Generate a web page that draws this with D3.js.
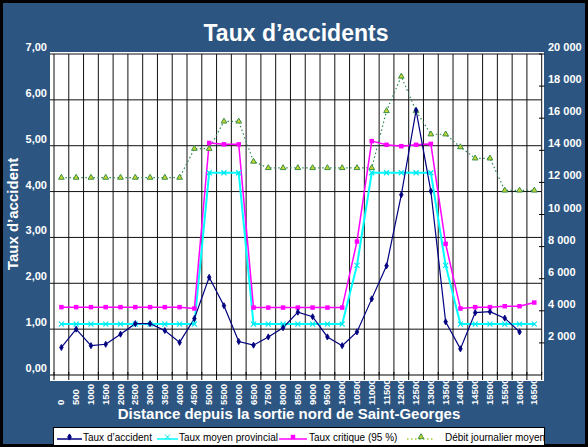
<!DOCTYPE html>
<html>
<head>
<meta charset="utf-8">
<script src="https://d3js.org/d3.v7.min.js"></script>
<style>
  body { margin: 0; }
  text { font-family: Tahoma, "Liberation Sans", Arial, sans-serif; }
</style>
</head>
<body>
<div id="chart"></div>
<script>
// categories (distance in m) - note 7000 is absent in the source
var categories = ["0","500","1000","1500","2000","2500","3000","3500","4000","4500",
  "5000","5500","6000","6500","7500","8000","8500","9000","9500","10000",
  "10500","11000","11500","12000","12500","13000","13500","14000","14500","15000",
  "15500","16000","16500"];

var tauxAccident = [0.60,1.00,0.64,0.67,0.89,1.12,1.12,0.97,0.71,1.23,
  2.13,1.51,0.73,0.65,0.83,1.03,1.37,1.27,0.83,0.64,
  0.94,1.66,2.38,3.93,5.77,4.01,1.16,0.57,1.36,1.38,
  1.24,0.94,null];

var tauxMoyen = [1.11,1.11,1.11,1.11,1.11,1.11,1.11,1.11,1.11,1.11,
  4.41,4.41,4.41,1.11,1.11,1.11,1.11,1.11,1.11,1.11,
  2.39,4.41,4.41,4.41,4.41,4.41,2.39,1.11,1.11,1.11,
  1.11,1.11,1.11];

var tauxCritique = [1.48,1.48,1.48,1.48,1.48,1.48,1.48,1.48,1.48,1.45,
  5.06,5.03,5.03,1.47,1.47,1.47,1.47,1.47,1.47,1.47,
  2.91,5.10,5.02,4.99,5.02,5.04,2.86,1.45,1.48,1.48,
  1.50,1.50,1.58];

var debit = [12300,12300,12300,12300,12300,12300,12300,12300,12300,14100,
  14100,15800,15800,13300,12900,12900,12900,12900,12900,12900,
  12900,12900,16450,18600,16450,15000,15000,14200,13500,13500,
  11500,11500,11500];

var leftTicks = [0,1,2,3,4,5,6,7];
var rightTicks = [2000,4000,6000,8000,10000,12000,14000,16000,18000,20000];

var W = 588, H = 447;
var bg = "#2c5681";

var svg = d3.select("#chart").append("svg")
  .attr("width", W).attr("height", H);

// outer frame
svg.append("rect").attr("width", W).attr("height", H).attr("fill", "#000");
svg.append("rect").attr("x", 3).attr("y", 3).attr("width", W - 6).attr("height", H - 6).attr("fill", bg);

var x = d3.scaleBand().domain(categories).range([54, 541.7]);
var y = d3.scaleLinear().domain([0, 7]).range([375, 54]);
var y2 = d3.scaleLinear().domain([0, 20000]).range([375, 54]);
var cx = function(i) { return x(categories[i]) + x.bandwidth() / 2; };

// x tick labels (drawn under the plot background so long ones get cut)
svg.append("g").selectAll("text")
  .data(categories)
  .enter().append("text")
    .attr("transform", function(d) { return "translate(" + (x(d) + x.bandwidth() / 2 + 3) + ",405) rotate(-90)"; })
    .attr("fill", "#fff")
    .attr("font-size", 9.5)
    .attr("font-weight", "bold")
    .text(function(d) { return d; });

// plot background
svg.append("rect")
  .attr("x", 50).attr("y", 52).attr("width", 494).attr("height", 329)
  .attr("fill", "#fff");

// vertical grid at band boundaries
var bounds = categories.map(function(d) { return x(d); }).concat([x.range()[1]]);
svg.append("g").selectAll("line")
  .data(bounds)
  .enter().append("line")
    .attr("x1", function(d) { return d; }).attr("x2", function(d) { return d; })
    .attr("y1", 54).attr("y2", 375)
    .attr("stroke", "#111").attr("stroke-width", 1);

// horizontal grid
svg.append("g").selectAll("line")
  .data(leftTicks.slice(1))
  .enter().append("line")
    .attr("x1", 50).attr("x2", 541.7)
    .attr("y1", function(d) { return y(d); }).attr("y2", function(d) { return y(d); })
    .attr("stroke", "#111").attr("stroke-width", 1);

// x axis line and ticks
svg.append("line").attr("x1", 50).attr("x2", 541.7).attr("y1", 375).attr("y2", 375)
  .attr("stroke", "#000").attr("stroke-width", 1);
svg.append("g").selectAll("line")
  .data(bounds)
  .enter().append("line")
    .attr("x1", function(d) { return d; }).attr("x2", function(d) { return d; })
    .attr("y1", 372).attr("y2", 380)
    .attr("stroke", "#000");

// right axis ticks
svg.append("g").selectAll("line")
  .data(rightTicks)
  .enter().append("line")
    .attr("x1", 539).attr("x2", 544.5)
    .attr("y1", function(d) { return y2(d); }).attr("y2", function(d) { return y2(d); })
    .attr("stroke", "#000");

// left axis labels
var fmtL = function(v) { return v.toFixed(2).replace(".", ","); };
svg.append("g").selectAll("text")
  .data(leftTicks)
  .enter().append("text")
    .attr("x", 47).attr("y", function(d) { return y(d) - 3; })
    .attr("text-anchor", "end")
    .attr("fill", "#fff").attr("font-size", 11).attr("font-weight", "bold")
    .text(fmtL);

// right axis labels
var fmtR = function(v) { return d3.format(",")(v).replace(",", " "); };
svg.append("g").selectAll("text")
  .data(rightTicks)
  .enter().append("text")
    .attr("x", 548).attr("y", function(d) { return y2(d) - 3; })
    .attr("fill", "#fff").attr("font-size", 11).attr("font-weight", "bold")
    .text(fmtR);

// titles
svg.append("text").attr("x", 296).attr("y", 41)
  .attr("text-anchor", "middle").attr("fill", "#fff")
  .attr("font-size", 23).attr("font-weight", "bold")
  .text("Taux d\u2019accidents");

svg.append("text").attr("x", 289).attr("y", 419)
  .attr("text-anchor", "middle").attr("fill", "#fff")
  .attr("font-size", 15).attr("font-weight", "bold")
  .text("Distance depuis la sortie nord de Saint-Georges");

svg.append("text").attr("transform", "translate(18,214) rotate(-90)")
  .attr("text-anchor", "middle").attr("fill", "#fff")
  .attr("font-size", 15).attr("font-weight", "bold")
  .text("Taux d\u2019accident");

// series
var line = function(scale) {
  return d3.line()
    .defined(function(d) { return d != null; })
    .x(function(d, i) { return cx(i); })
    .y(function(d) { return scale(d); });
};

var plot = svg.append("g");

// débit (right axis)
plot.append("path").datum(debit)
  .attr("fill", "none").attr("stroke", "#2e8b57").attr("stroke-width", 1.2)
  .attr("stroke-dasharray", "1.5,2.5")
  .attr("d", line(y2));

plot.append("path").datum(tauxMoyen)
  .attr("fill", "none").attr("stroke", "#00ffff").attr("stroke-width", 2)
  .attr("d", line(y));

plot.append("path").datum(tauxCritique)
  .attr("fill", "none").attr("stroke", "#ff00ff").attr("stroke-width", 1.5)
  .attr("d", line(y));

plot.append("path").datum(tauxAccident)
  .attr("fill", "none").attr("stroke", "#000080").attr("stroke-width", 1.2)
  .attr("d", line(y));

// markers
var tri = d3.symbol().type(d3.symbolTriangle).size(14);
var dia = d3.symbol().type(d3.symbolDiamond).size(11);
var sq = d3.symbol().type(d3.symbolSquare).size(20);
var cross = d3.symbol().type(d3.symbolX).size(18);

plot.append("g").selectAll("path")
  .data(debit).enter().append("path")
    .attr("transform", function(d, i) { return "translate(" + cx(i) + "," + y2(d) + ")"; })
    .attr("d", tri).attr("fill", "#c8d62a").attr("stroke", "#3a8f4a").attr("stroke-width", 1);

plot.append("g").selectAll("path")
  .data(tauxMoyen).enter().append("path")
    .attr("transform", function(d, i) { return "translate(" + cx(i) + "," + y(d) + ")"; })
    .attr("d", cross).attr("fill", "none").attr("stroke", "#00e5ee").attr("stroke-width", 1.2);

plot.append("g").selectAll("path")
  .data(tauxCritique).enter().append("path")
    .attr("transform", function(d, i) { return "translate(" + cx(i) + "," + y(d) + ")"; })
    .attr("d", sq).attr("fill", "#ff00ff");

plot.append("g").selectAll("path")
  .data(tauxAccident.filter(function(d) { return d != null; })).enter().append("path")
    .attr("transform", function(d, i) { return "translate(" + cx(i) + "," + y(d) + ")"; })
    .attr("d", dia).attr("fill", "#000080").attr("stroke", "#000080").attr("stroke-width", 0.8);

// legend
var lg = svg.append("g");
lg.append("rect").attr("x", 53.5).attr("y", 427.5).attr("width", 491).attr("height", 18)
  .attr("fill", "#fff").attr("stroke", "#000");

var legendItems = [
  {name: "Taux d\u2019accident", x0: 57, x1: 82, tx: 83, color: "#000080", sym: dia, fill: "#000080", stroke: "#000080", dash: null},
  {name: "Taux moyen provincial", x0: 157, x1: 178, tx: 179, color: "#00ffff", sym: cross, fill: "none", stroke: "#00e5ee", dash: null},
  {name: "Taux critique (95 %)", x0: 279, x1: 307, tx: 309, color: "#ff00ff", sym: sq, fill: "#ff00ff", stroke: "none", dash: null},
  {name: "D\u00e9bit journalier moyen", x0: 407, x1: 435, tx: 445, color: "#9acd32", sym: tri, fill: "#c8d62a", stroke: "#3a8f4a", dash: "1.5,2.5"}
];
legendItems.forEach(function(it) {
  lg.append("line").attr("x1", it.x0).attr("x2", it.x1).attr("y1", 439).attr("y2", 439)
    .attr("stroke", it.color).attr("stroke-width", 1.5)
    .attr("stroke-dasharray", it.dash);
  lg.append("path").attr("transform", "translate(" + ((it.x0 + it.x1) / 2) + ",437)")
    .attr("d", it.sym).attr("fill", it.fill).attr("stroke", it.stroke);
  lg.append("text").attr("x", it.tx).attr("y", 441)
    .attr("font-size", 10).attr("fill", "#000")
    .text(it.name);
});
</script>
</body>
</html>
